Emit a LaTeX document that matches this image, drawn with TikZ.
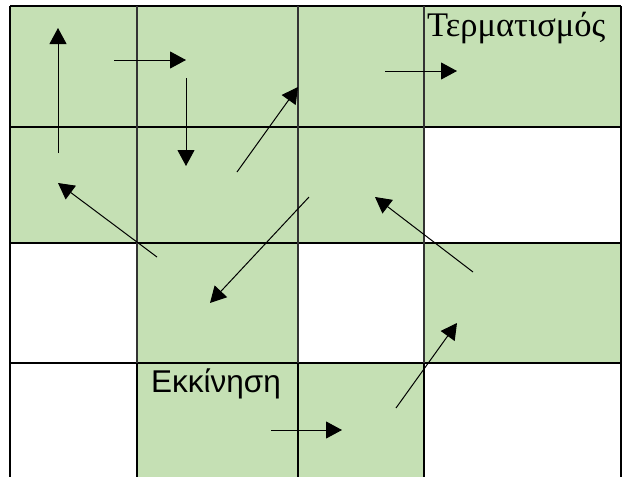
\documentclass[tikz,border=0pt]{standalone}
\usepackage{fontspec}
\newfontfamily\grserif{Liberation Serif}
\newfontfamily\grsans{Liberation Sans}
\usetikzlibrary{arrows.meta}
\definecolor{cellgreen}{HTML}{C5E0B4}
\begin{document}
\begin{tikzpicture}[x=1pt,y=-1pt,
  cell/.style={fill=cellgreen,draw=none},
  hline/.style={line width=1.6pt,black},
  vline/.style={line width=1.2pt,black!80},
  arr/.style={line width=1pt,-{Triangle[length=16pt,width=17pt]}},
  lbl/.style={inner sep=0pt,anchor=base west}]
\useasboundingbox (0,0) rectangle (622,477);
% green cells
\fill[cellgreen] (10,6) rectangle (621,127);
\fill[cellgreen] (10,127) rectangle (424,243);
\fill[cellgreen] (137,243) rectangle (298,363);
\fill[cellgreen] (424,243) rectangle (621,363);
\fill[cellgreen] (137,363) rectangle (424,477);
% grid lines
\foreach \y in {6,127,243,363} \draw[hline] (10,\y) -- (621,\y);
\draw[hline] (10,6) -- (10,477);
\draw[hline] (621,6) -- (621,477);
\foreach \x in {137,298,424} {
  \draw[vline] (\x,6) -- (\x,363);
  \draw[hline] (\x,363) -- (\x,477);
}
% labels
\node[lbl] (term) at (427,36) {\grserif\fontsize{34.5}{38}\selectfont Τερματισμός};
\node[lbl] (start) at (151,392) {\grsans\fontsize{31.5}{36}\selectfont Εκκίνηση};
% arrow end points
\coordinate (a1s) at (58,153);  \coordinate (a1e) at (58,28);
\coordinate (a2s) at (114,60);  \coordinate (a2e) at (186,60);
\coordinate (a3s) at (186,78);  \coordinate (a3e) at (186,166);
\coordinate (a4s) at (237,172); \coordinate (a4e) at (298,87);
\coordinate (a5s) at (385,71);  \coordinate (a5e) at (457,71);
\coordinate (a6s) at (157,257); \coordinate (a6e) at (58,183);
\coordinate (a7s) at (309,197); \coordinate (a7e) at (210,303);
\coordinate (a8s) at (473,272); \coordinate (a8e) at (375,197);
\coordinate (a9s) at (396,408); \coordinate (a9e) at (457,323);
\coordinate (a10s) at (271,430); \coordinate (a10e) at (342,430);
\foreach \i in {1,...,10} \draw[arr] (a\i s) -- (a\i e);
\end{tikzpicture}
\end{document}
